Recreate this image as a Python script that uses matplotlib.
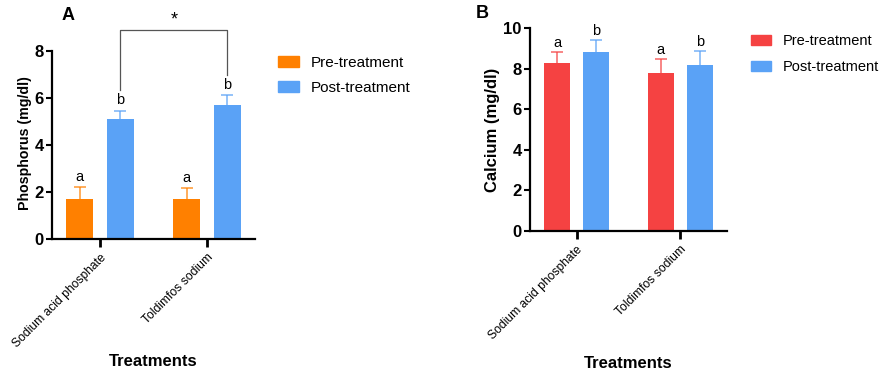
import matplotlib
matplotlib.use("Agg")
import matplotlib.pyplot as plt
import numpy as np
from matplotlib.patches import Patch

plt.rcParams['font.family'] = ['Liberation Sans', 'DejaVu Sans']

categories = ["Sodium acid phosphate", "Toldimfos sodium"]
series_names = ["Pre-treatment", "Post-treatment"]

phos_pre = [1.7, 1.72]
phos_pre_err = [0.5, 0.43]
phos_post = [5.1, 5.7]
phos_post_err = [0.35, 0.42]
phos_letters_pre = ["a", "a"]
phos_letters_post = ["b", "b"]

ca_pre = [8.3, 7.8]
ca_pre_err = [0.52, 0.65]
ca_post = [8.8, 8.2]
ca_post_err = [0.6, 0.66]
ca_letters_pre = ["a", "a"]
ca_letters_post = ["b", "b"]

orange = "#FF8000"
blue = "#5AA2F6"
red = "#F54242"

W, H = 880, 374
fig = plt.figure(figsize=(W / 100, H / 100), dpi=100)


def px_axes(left, bottom_px, right, top_px):
    return fig.add_axes([left / W, (H - bottom_px) / H, (right - left) / W, (bottom_px - top_px) / H])


def upper_err(ax, xs, ys, errs, color):
    res = ax.errorbar(xs, ys, yerr=[np.zeros(len(ys)), errs], fmt="none",
                      ecolor=color, alpha=0.75, elinewidth=1.2, capsize=4.5, capthick=1.2, zorder=1)
    caps = res[1]
    if len(caps) >= 1:
        caps[0].set_visible(False)


def draw_panel(ax, pre, pre_err, post, post_err, lp, lq, c_pre, c_post, ymax, ylabel,
               letter_gap, ylabel_size, xlabel_y):
    x = np.arange(len(categories))
    off, bw = 0.19, 0.25
    ax.bar(x - off, pre, bw, color=c_pre, zorder=2)
    ax.bar(x + off, post, bw, color=c_post, zorder=2)
    upper_err(ax, x - off, pre, pre_err, c_pre)
    upper_err(ax, x + off, post, post_err, c_post)
    for i in range(len(categories)):
        ax.text(x[i] - off, pre[i] + pre_err[i] + letter_gap, lp[i], ha="center", va="bottom", fontsize=10.5)
        ax.text(x[i] + off, post[i] + post_err[i] + letter_gap, lq[i], ha="center", va="bottom", fontsize=10.5)
    ax.set_ylim(0, ymax)
    ax.set_xlim(-0.45, 1.45)
    ax.set_yticks(np.arange(0, ymax + 0.1, 2))
    ax.set_xticks(x)
    ax.set_xticklabels(categories, rotation=45, ha="right", rotation_mode="anchor", fontsize=8.7)
    for lab in ax.get_yticklabels():
        lab.set_fontweight("bold")
        lab.set_fontsize(12)
    ax.tick_params(axis="y", width=1.5, length=4, pad=2)
    ax.tick_params(axis="x", width=2, length=6, pad=3)
    for s in ["top", "right"]:
        ax.spines[s].set_visible(False)
    for s in ["left", "bottom"]:
        ax.spines[s].set_linewidth(1.6)
    ax.set_ylabel(ylabel, fontsize=ylabel_size, fontweight="bold")
    ax.set_xlabel("Treatments", fontsize=12, fontweight="bold")
    ax.xaxis.set_label_coords(0.5, xlabel_y)


axA = px_axes(52, 239, 255, 51)
draw_panel(axA, phos_pre, phos_pre_err, phos_post, phos_post_err, phos_letters_pre, phos_letters_post,
           orange, blue, 8, "Phosphorus (mg/dl)", 0.15, 10.2, -0.61)
axA.yaxis.set_label_coords(-0.098, 0.51)

# significance bracket between the post-treatment bars
xb = np.arange(len(categories)) + 0.19
ytop = 8.9
axA.plot([xb[0], xb[0], xb[1], xb[1]],
         [phos_post[0] + phos_post_err[0] + 0.9, ytop, ytop, phos_post[1] + phos_post_err[1] + 0.85],
         color="#555555", lw=0.9, clip_on=False)
axA.text((xb[0] + xb[1]) / 2, ytop + 0.42, "*", ha="center", va="center", fontsize=13)

axB = px_axes(530, 231, 727, 28)
draw_panel(axB, ca_pre, ca_pre_err, ca_post, ca_post_err, ca_letters_pre, ca_letters_post,
           red, blue, 10, "Calcium (mg/dl)", 0.12, 12, -0.615)
axB.yaxis.set_label_coords(-0.152, 0.5)

fig.text(62 / W, 1 - 15 / H, "A", fontsize=13, fontweight="bold", ha="left", va="center")
fig.text(476 / W, 1 - 13 / H, "B", fontsize=13, fontweight="bold", ha="left", va="center")

for cpre, lx, ly, fs, sp in [(orange, 278, 56, 11, 0.72), (red, 751, 34, 10.5, 0.85)]:
    handles = [Patch(color=cpre), Patch(color=blue)]
    fig.legend(handles, series_names, loc="upper left", bbox_to_anchor=(lx / W, 1 - ly / H),
               frameon=False, fontsize=fs, handlelength=1.35, handleheight=0.7,
               handletextpad=0.8, labelspacing=sp, borderpad=0, borderaxespad=0)

fig.savefig("out.png", dpi=100)
